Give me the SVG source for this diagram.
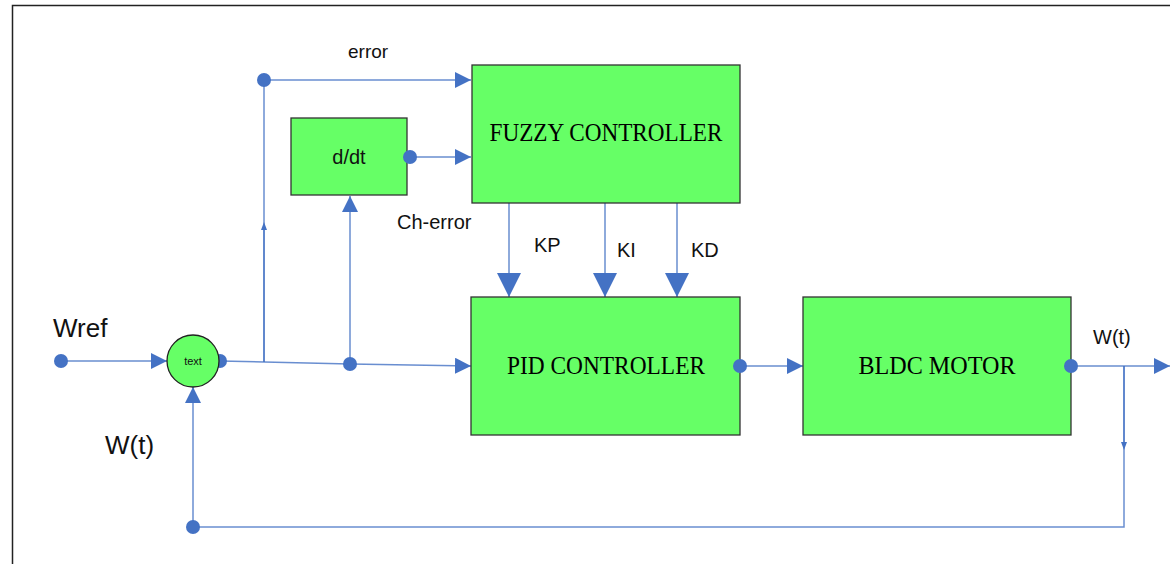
<svg xmlns="http://www.w3.org/2000/svg" width="1170" height="564" viewBox="0 0 1170 564">
<style>
.box{fill:#66FF66;stroke:#333;stroke-width:1.3}
.ln{fill:none;stroke:#4472C4;stroke-width:1.5;stroke-opacity:0.8}
.dot{fill:#4472C4}
.lbl{font-family:"Liberation Sans",Arial,sans-serif;fill:#111}
.big{font-family:"Liberation Serif","DejaVu Serif",serif;font-size:25px;fill:#000}
</style>
<defs>
<marker id="ah" markerUnits="userSpaceOnUse" markerWidth="16" markerHeight="16" viewBox="0 0 16 16" refX="16" refY="8" orient="auto">
<path d="M0,0 L16,8 L0,16 Z" fill="#4472C4"/>
</marker>
<marker id="ahb" markerUnits="userSpaceOnUse" markerWidth="24" markerHeight="24" viewBox="0 0 24 24" refX="24" refY="12" orient="auto">
<path d="M0,0 L24,12 L0,24 Z" fill="#4472C4"/>
</marker>
<marker id="ahs" markerUnits="userSpaceOnUse" markerWidth="8" markerHeight="8" viewBox="0 0 8 8" refX="4" refY="4" orient="auto">
<path d="M0,1 L8,4 L0,7 Z" fill="#4472C4"/>
</marker>
</defs>
<rect x="0" y="0" width="1170" height="564" fill="#fff"/>
<path d="M12.5,564 V5.5 H1170" fill="none" stroke="#222" stroke-width="1.5"/>

<g id="connectors">
<path class="ln" d="M61,361 H167" marker-end="url(#ah)"/>
<path class="ln" d="M220,361 L264,362 L350,364 L471,366" marker-end="url(#ah)"/>
<path class="ln" d="M264,362 V80 H471" marker-end="url(#ah)"/>
<path class="ln" d="M264,362 V226" marker-end="url(#ahs)"/>
<path class="ln" d="M410,157 H471" marker-end="url(#ah)"/>
<path class="ln" d="M350,364 V196" marker-end="url(#ah)"/>
<path class="ln" d="M509,203 V297" marker-end="url(#ahb)"/>
<path class="ln" d="M605,203 V297" marker-end="url(#ahb)"/>
<path class="ln" d="M677,203 V297" marker-end="url(#ahb)"/>
<path class="ln" d="M740,366 H803" marker-end="url(#ah)"/>
<path class="ln" d="M1071,366 H1170" marker-end="url(#ah)"/>
<path class="ln" d="M1124,366 V446" marker-end="url(#ahs)"/>
<path class="ln" d="M1124,366 V527 H193 V387" marker-end="url(#ah)"/>
<circle class="dot" cx="61" cy="361" r="7"/>
<circle class="dot" cx="220" cy="361" r="7"/>
<circle class="dot" cx="264" cy="80" r="7"/>
<circle class="dot" cx="350" cy="364" r="7"/>
<circle class="dot" cx="193" cy="527" r="7"/>
</g>

<g id="sum">
<circle cx="193" cy="361" r="26" fill="#66FF66" stroke="#222" stroke-width="1.3"/>
<text class="lbl" x="193" y="365" font-size="11" text-anchor="middle">text</text>
</g>

<g id="ddt">
<rect class="box" x="291" y="118" width="116" height="77"/>
<text class="lbl" x="349" y="164" font-size="20" text-anchor="middle">d/dt</text>
<circle class="dot" cx="410" cy="157" r="7"/>
</g>

<g id="fuzzy">
<rect class="box" x="472" y="65" width="268" height="138"/>
<text class="big" x="606" y="141" text-anchor="middle" textLength="233" lengthAdjust="spacingAndGlyphs">FUZZY CONTROLLER</text>
</g>

<g id="pid">
<rect class="box" x="471" y="297" width="269" height="138"/>
<text class="big" x="606" y="374" text-anchor="middle" textLength="198" lengthAdjust="spacingAndGlyphs">PID CONTROLLER</text>
<circle class="dot" cx="740" cy="366" r="7"/>
</g>

<g id="bldc">
<rect class="box" x="803" y="297" width="268" height="138"/>
<text class="big" x="937" y="374" text-anchor="middle" textLength="157" lengthAdjust="spacingAndGlyphs">BLDC MOTOR</text>
<circle class="dot" cx="1071" cy="366" r="7"/>
</g>

<g id="labels">
<text class="lbl" x="53" y="337" font-size="26">Wref</text>
<text class="lbl" x="105" y="454" font-size="26">W(t)</text>
<text class="lbl" x="348" y="58" font-size="19">error</text>
<text class="lbl" x="397" y="229" font-size="20">Ch-error</text>
<text class="lbl" x="534" y="252" font-size="20">KP</text>
<text class="lbl" x="617" y="257" font-size="20">KI</text>
<text class="lbl" x="691" y="257" font-size="20">KD</text>
<text class="lbl" x="1093" y="344" font-size="20">W(t)</text>
</g>
</svg>
